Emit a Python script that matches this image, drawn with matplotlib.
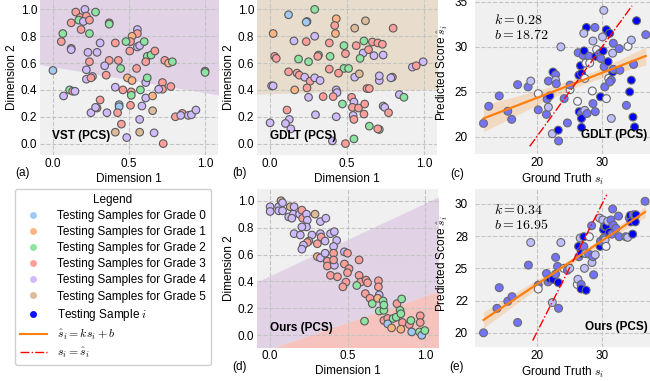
import numpy as np
import matplotlib
matplotlib.use('Agg')
import matplotlib.pyplot as plt
from matplotlib.lines import Line2D
from matplotlib.ticker import MultipleLocator, FormatStrFormatter

plt.rcParams['font.family'] = ['Liberation Sans', 'DejaVu Sans']
plt.rcParams['mathtext.fontset'] = 'cm'
plt.rcParams['font.size'] = 8.5

# grade colours (seaborn pastel)
grade_colors = ['#a1c9f4', '#ffb482', '#8de5a1', '#ff9f9b', '#d0bbff', '#debb9b']
grade_names = ['Testing Samples for Grade %d' % g for g in range(6)]

# (a) VST embedding
vst_x = [0.21, 0.15, 0.28, 0.18, 0.22, 0.17, 0.20, 0.24, 0.12, 0.37,
         0.37, 0.185, 0.065, 0.24, 0.555, 0.555, 0.52, 0.51, 0.48, 0.555,
         0.57, 0.60, 0.505, 0.62, 0.645, 0.61, 0.67, 0.735, 0.76, 0.785,
         1.0, 1.0, 0.055, 0.12, 0.12, 0.31, 0.41, 0.23, 0.29, 0.43,
         0.37, 0.24, 0.34, 0.445, 0.0, 0.22, 0.22, 0.26, 0.25, 0.35,
         0.49, 0.52, 0.55, 0.61, 0.62, 0.11, 0.13, 0.145, 0.41, 0.46,
         0.515, 0.575, 0.72, 0.72, 0.695, 0.775, 0.07, 0.515, 0.61, 0.655,
         0.31, 0.51, 0.585, 0.435, 0.435, 0.655, 0.25, 0.29, 0.28, 0.355,
         0.425, 0.57, 0.45, 0.805, 0.85, 0.84, 0.89, 0.91, 0.94, 0.41,
         0.57, 0.485, 0.665, 0.725]
vst_y = [1.0, 0.98, 0.98, 0.94, 0.95, 0.92, 0.91, 0.92, 0.90, 0.90,
         0.89, 0.85, 0.82, 0.82, 0.85, 0.82, 0.80, 0.76, 0.76, 0.72,
         0.73, 0.76, 0.69, 0.65, 0.66, 0.61, 0.69, 0.62, 0.60, 0.61,
         0.54, 0.53, 0.76, 0.71, 0.70, 0.75, 0.75, 0.68, 0.68, 0.62,
         0.62, 0.61, 0.58, 0.56, 0.545, 0.55, 0.48, 0.50, 0.49, 0.51,
         0.49, 0.47, 0.56, 0.455, 0.49, 0.40, 0.39, 0.39, 0.42, 0.40,
         0.385, 0.40, 0.455, 0.405, 0.405, 0.425, 0.355, 0.36, 0.34, 0.355,
         0.325, 0.285, 0.28, 0.29, 0.275, 0.245, 0.23, 0.265, 0.27, 0.23,
         0.23, 0.18, 0.145, 0.20, 0.225, 0.21, 0.21, 0.215, 0.25, 0.085,
         0.085, 0.045, 0.08, 0.0]
vst_grade = [4, 3, 2, 3, 3, 2, 4, 3, 3, 3, 2, 3, 2, 2, 4, 3, 1, 3, 2, 4,
             4, 2, 3, 2, 2, 3, 3, 3, 1, 2, 2, 2, 3, 3, 4, 4, 3, 4, 4, 3,
             3, 3, 4, 2, 0, 4, 4, 4, 3, 3, 1, 1, 3, 4, 2, 2, 3, 4, 4, 3,
             3, 2, 3, 3, 4, 3, 4, 2, 4, 1, 3, 3, 4, 0, 0, 5, 4, 3, 4, 4,
             3, 4, 3, 3, 3, 4, 4, 4, 4, 5, 5, 4, 4, 3]

# (b) GDLT embedding
gdlt_x = [0.12, 0.24, 0.235, 0.29, 0.43, 0.62, 0.42, 0.425, 0.02, 0.55,
          0.80, 0.155, 0.235, 0.29, 0.385, 0.48, 0.61, 0.665, 0.70, 0.73,
          0.56, 0.605, 0.64, 0.585, 0.735, 0.675, 0.49, 0.185, 0.25, 0.315,
          0.31, 0.03, 0.04, 0.39, 0.12, 0.175, 0.19, 0.225, 0.26, 0.24,
          0.29, 0.325, 0.385, 0.48, 0.51, 0.55, 0.445, 0.58, 0.01, 0.02,
          0.16, 0.63, 0.645, 0.71, 0.71, 0.795, 0.785, 0.925, 0.95, 0.995,
          0.43, 0.435, 0.345, 0.41, 0.25, 0.53, 0.545, 0.84, 0.87, 0.11,
          0.125, 0.10, 0.135, 0.295, 0.43, 0.47, 0.535, 0.575, 0.61, 0.615,
          0.735, 0.745, 0.77, 0.54, 0.545, 0.645, 0.71, 0.70, 0.0, 0.545,
          0.405, 0.49]
gdlt_y = [0.96, 0.91, 0.905, 1.0, 0.93, 0.915, 0.88, 0.82, 0.82, 0.86,
          0.86, 0.765, 0.76, 0.80, 0.75, 0.73, 0.765, 0.757, 0.75, 0.74,
          0.73, 0.675, 0.70, 0.635, 0.66, 0.655, 0.67, 0.63, 0.61, 0.66,
          0.65, 0.65, 0.635, 0.65, 0.535, 0.525, 0.51, 0.495, 0.465, 0.415,
          0.49, 0.47, 0.555, 0.56, 0.56, 0.495, 0.525, 0.52, 0.43, 0.43,
          0.40, 0.41, 0.41, 0.47, 0.505, 0.495, 0.49, 0.57, 0.58, 0.61,
          0.40, 0.38, 0.35, 0.35, 0.345, 0.345, 0.31, 0.365, 0.345, 0.25,
          0.18, 0.15, 0.11, 0.215, 0.20, 0.295, 0.27, 0.265, 0.22, 0.295,
          0.28, 0.27, 0.23, 0.21, 0.18, 0.13, 0.105, 0.11, 0.155, 0.035,
          0.02, 0.0]
gdlt_grade = [0, 0, 0, 2, 1, 5, 3, 1, 1, 5, 3, 4, 3, 4, 3, 2, 2, 3, 3, 3,
              3, 4, 3, 2, 4, 4, 3, 2, 2, 2, 3, 3, 3, 2, 3, 3, 3, 4, 3, 3,
              4, 4, 3, 2, 2, 4, 3, 5, 4, 4, 1, 3, 3, 4, 4, 3, 4, 4, 3, 4,
              4, 4, 3, 3, 4, 3, 4, 4, 2, 3, 4, 4, 4, 4, 4, 2, 3, 3, 3, 3,
              4, 4, 3, 4, 3, 2, 2, 3, 4, 2, 4, 3]

# (d) Ours embedding
ours_x = [0.0, 0.0, 0.055, 0.07, 0.08, 0.055, 0.08, 0.13, 0.155, 0.12,
          0.15, 0.14, 0.19, 0.205, 0.21, 0.235, 0.24, 0.235, 0.205, 0.29,
          0.325, 0.36, 0.155, 0.195, 0.27, 0.25, 0.24, 0.215, 0.325, 0.33,
          0.205, 0.305, 0.355, 0.39, 0.415, 0.43, 0.41, 0.305, 0.325, 0.355,
          0.41, 0.37, 0.37, 0.39, 0.48, 0.50, 0.435, 0.415, 0.41, 0.48,
          0.51, 0.50, 0.49, 0.47, 0.575, 0.575, 0.585, 0.56, 0.615, 0.62,
          0.63, 0.645, 0.66, 0.70, 0.70, 0.705, 0.695, 0.73, 0.735, 0.705,
          0.735, 0.735, 0.76, 0.76, 0.785, 0.795, 0.815, 0.82, 0.84, 0.845,
          0.85, 0.855, 0.845, 0.61, 0.90, 0.91, 0.915, 0.965, 0.97, 0.97,
          0.98, 1.0]
ours_y = [0.955, 0.92, 0.955, 1.0, 0.985, 0.925, 0.925, 0.955, 0.955, 0.88,
          0.90, 0.87, 0.90, 0.93, 0.87, 0.90, 0.855, 0.805, 0.805, 0.90,
          0.845, 0.87, 0.755, 0.745, 0.745, 0.70, 0.69, 0.67, 0.755, 0.73,
          0.64, 0.68, 0.70, 0.755, 0.77, 0.705, 0.66, 0.585, 0.575, 0.61,
          0.61, 0.55, 0.515, 0.445, 0.62, 0.61, 0.435, 0.52, 0.56, 0.53,
          0.495, 0.465, 0.395, 0.36, 0.56, 0.445, 0.395, 0.37, 0.31, 0.41,
          0.39, 0.275, 0.235, 0.405, 0.36, 0.30, 0.275, 0.255, 0.11, 0.18,
          0.185, 0.225, 0.125, 0.085, 0.055, 0.125, 0.135, 0.235, 0.185, 0.16,
          0.27, 0.095, 0.045, 0.105, 0.08, 0.11, 0.025, 0.025, 0.145, 0.095,
          0.0, 0.035]
ours_grade = [4, 4, 4, 5, 4, 4, 4, 5, 4, 4, 4, 4, 4, 3, 3, 4, 4, 4, 4, 5,
              4, 4, 4, 4, 4, 3, 3, 4, 4, 3, 4, 3, 4, 4, 4, 4, 4, 1, 4, 4,
              3, 3, 3, 3, 4, 3, 3, 4, 3, 3, 3, 3, 3, 3, 3, 3, 3, 2, 3, 3,
              3, 3, 2, 3, 3, 4, 1, 2, 3, 2, 2, 2, 3, 0, 1, 2, 2, 3, 2, 2,
              2, 3, 1, 2, 3, 2, 0, 2, 3, 3, 0, 2]

# decision boundaries (intercept, slope) of the background regions
vst_bound = (0.572, -0.193)
gdlt_bound = (0.372, 0.032)
ours_bound_hi = (0.443, 0.538)
ours_bound_lo = (-0.10, 0.392)

# (c) GDLT regression: ground truth, predicted, shade of sample i
gdlt_true = [11.9, 12.7, 14.3, 15.6, 16.2, 17.1, 18.7, 19.1, 20.25, 20.25,
             21.5, 21.6, 21.8, 21.8, 22.0, 22.4, 22.5, 22.9, 22.9, 23.0,
             23.3, 23.35, 23.7, 24.2, 24.7, 25.1, 25.1, 26.25, 26.35, 26.45,
             26.5, 26.85, 26.85, 26.85, 26.7, 26.85, 27.1, 27.25, 27.35, 27.5,
             27.6, 27.2, 27.35, 27.7, 28.0, 28.1, 28.5, 28.6, 28.95, 28.6,
             28.9, 29.0, 29.15, 29.6, 29.75, 29.8, 30.05, 30.15, 30.25, 30.3,
             30.4, 30.65, 30.65, 30.9, 31.15, 31.0, 31.4, 31.15, 31.4, 31.7,
             31.6, 31.6, 31.7, 32.7, 32.6, 33.7, 33.95, 34.2, 34.45, 34.45,
             34.8, 34.7, 34.95, 35.25, 36.65]
gdlt_pred = [21.5, 23.4, 24.55, 22.85, 21.95, 25.8, 25.55, 26.2, 23.0, 24.8,
             22.5, 24.2, 26.2, 23.3, 24.55, 20.35, 27.2, 26.9, 26.3, 25.9,
             20.75, 19.55, 30.0, 24.25, 21.55, 25.25, 25.75, 23.95, 29.35, 26.85,
             22.8, 22.6, 22.05, 21.05, 27.9, 27.05, 29.05, 29.55, 26.5, 28.2,
             32.15, 31.5, 22.95, 22.6, 28.95, 28.2, 25.1, 23.7, 22.8, 30.65,
             32.15, 28.95, 29.7, 29.25, 24.45, 28.7, 31.1, 29.55, 34.05, 27.8,
             25.55, 24.25, 31.9, 28.35, 31.5, 26.5, 26.3, 26.1, 22.05, 30.4,
             29.3, 27.2, 27.5, 27.4, 29.8, 23.5, 30.05, 25.0, 26.3, 30.75,
             28.05, 22.2, 21.1, 32.9, 31.35]
gdlt_shade = [0.55, 0.55, 0.55, 0.55, 0.55, 0.55, 0.55, 0.25, 0.55, 0.05,
              0.55, 0.55, 0.55, 0.25, 1.0, 0.25, 1.0, 0.55, 0.25, 0.55,
              1.0, 0.55, 0.25, 0.55, 0.55, 0.05, 0.55, 0.05, 0.55, 1.0,
              1.0, 0.55, 1.0, 1.0, 1.0, 1.0, 0.55, 1.0, 0.05, 0.05,
              1.0, 0.25, 0.25, 0.55, 0.55, 0.05, 0.05, 0.55, 0.55, 0.25,
              0.55, 1.0, 0.05, 0.55, 1.0, 0.55, 0.25, 1.0, 0.25, 0.55,
              0.55, 0.05, 1.0, 1.0, 1.0, 0.05, 0.55, 0.55, 0.25, 0.55,
              0.25, 1.0, 0.55, 0.55, 0.55, 0.55, 0.05, 1.0, 1.0, 0.25,
              0.55, 1.0, 1.0, 1.0, 0.55]
gdlt_k, gdlt_b = 0.28, 18.72

# (e) Ours regression
ours_true = [11.9, 13.95, 14.3, 15.6, 16.25, 17.1, 18.75, 19.1, 20.25, 20.25,
             21.5, 21.75, 22.0, 22.4, 22.5, 22.9, 22.9, 23.3, 23.35, 23.7,
             23.2, 24.15, 24.7, 25.05, 26.2, 26.3, 26.4, 26.45, 26.8, 26.8,
             26.8, 26.8, 26.65, 27.2, 27.3, 27.45, 27.55, 27.2, 27.95, 28.05,
             28.4, 28.45, 28.6, 28.7, 28.95, 29.6, 29.7, 29.75, 30.1, 30.2,
             30.25, 30.35, 30.45, 30.6, 30.6, 30.85, 31.1, 31.35, 31.5, 31.6,
             31.7, 32.1, 32.6, 32.5, 33.6, 33.9, 34.15, 34.3, 34.4, 34.65,
             34.75, 35.05, 35.15, 36.55]
ours_pred = [20.0, 21.9, 23.5, 22.45, 22.8, 20.8, 25.25, 27.0, 23.7, 23.4,
             24.6, 23.95, 24.2, 22.35, 24.15, 25.85, 24.55, 23.9, 21.9, 27.0,
             25.15, 25.0, 24.85, 25.0, 23.75, 24.15, 26.7, 25.9, 26.35, 23.75,
             23.4, 26.15, 27.35, 26.7, 25.0, 26.15, 23.3, 27.45, 26.1, 27.45,
             28.3, 25.45, 25.9, 24.5, 26.05, 28.9, 26.7, 27.1, 28.75, 28.0,
             27.35, 28.25, 27.2, 26.7, 28.25, 28.65, 27.8, 28.75, 27.65, 29.6,
             28.35, 28.1, 27.45, 29.05, 27.45, 27.4, 28.9, 29.1, 28.6, 27.65,
             29.15, 28.6, 29.15, 30.2]
ours_shade = [0.55, 0.55, 0.55, 0.55, 0.55, 0.55, 0.55, 0.25, 0.55, 0.05,
              0.55, 0.55, 1.0, 0.25, 1.0, 0.55, 0.55, 1.0, 0.55, 0.25,
              0.55, 0.05, 0.55, 0.25, 0.05, 0.25, 1.0, 0.55, 1.0, 0.55,
              1.0, 1.0, 0.25, 0.55, 0.25, 0.25, 1.0, 1.0, 0.55, 0.05,
              0.55, 0.25, 0.55, 0.55, 0.25, 0.25, 1.0, 0.55, 0.25, 1.0,
              0.55, 0.55, 0.25, 0.05, 1.0, 0.25, 1.0, 0.55, 0.55, 0.55,
              0.55, 0.55, 0.55, 0.55, 0.55, 0.25, 0.55, 1.0, 1.0, 1.0,
              0.55, 1.0, 1.0, 0.55]
ours_k, ours_b = 0.34, 16.95

bg = '#f0f0f0'
purple_reg = '#e1d2e6'
tan_reg = '#e8ddcc'
pink_reg = '#f6c3be'

W, H = 650, 381
fig = plt.figure(figsize=(6.5, 3.81), dpi=100)


def box(l, t, r, b):
    return [l / W, 1 - b / H, (r - l) / W, (b - t) / H]


def style(ax, pad_y=2):
    ax.set_facecolor(bg)
    for s in ax.spines.values():
        s.set_visible(False)
    ax.set_axisbelow(True)
    ax.grid(True, ls='--', color='#c4c4c4', lw=0.8)
    ax.tick_params(length=0, pad=2)
    ax.tick_params(axis='y', pad=pad_y)


def embed_panel(ax, x, y, grade, tag):
    style(ax)
    cols = [grade_colors[g] for g in grade]
    ax.scatter(x, y, c=cols, s=30, edgecolors='#5a5a5a', linewidths=0.8, zorder=3)
    ax.set_xlim(-0.085, 1.085)
    ax.set_ylim(-0.085, 1.07)
    ax.set_xticks([0, 0.5, 1.0])
    ax.set_yticks([0, 0.2, 0.4, 0.6, 0.8, 1.0])
    ax.xaxis.set_major_formatter(FormatStrFormatter('%.1f'))
    ax.yaxis.set_major_formatter(FormatStrFormatter('%.1f'))
    ax.set_xlabel('Dimension 1', labelpad=2)
    ax.set_ylabel('Dimension 2', labelpad=2)
    ax.text(0.07, 0.12, tag, transform=ax.transAxes, fontweight='bold',
            ha='left', va='center', zorder=5)


def reg_panel(ax, true, pred, shade, k, b, tag, ylim, ystep):
    style(ax, pad_y=5)
    true = np.array(true)
    pred = np.array(pred)
    shade = np.array(shade)
    cols = np.ones((len(shade), 4))
    cols[:, 0] = 1 - shade
    cols[:, 1] = 1 - shade
    cols[:, 2] = 1
    ax.scatter(true, pred, c=cols, s=32, edgecolors='#6a6a6a', linewidths=0.8, zorder=3)
    xs = np.linspace(true.min(), true.max(), 100)
    fit = k * xs + b
    resid = pred - (k * true + b)
    n = len(true)
    s = np.sqrt(np.sum(resid ** 2) / (n - 2))
    sxx = np.sum((true - true.mean()) ** 2)
    half = 1.96 * s * np.sqrt(1.0 / n + (xs - true.mean()) ** 2 / sxx) * 0.75
    ax.fill_between(xs, fit - half, fit + half, color='#ff7f0e', alpha=0.2, lw=0, zorder=2)
    ax.plot(xs, fit, color='#ff7f0e', lw=1.6, zorder=4)
    ident = np.linspace(pred.min() - 0.6, pred.max() + 0.5, 10)
    ax.plot(ident, ident, color='red', ls='-.', lw=1.0, zorder=4)
    ax.set_xlim(10.6, 37.3)
    ax.set_ylim(*ylim)
    ax.xaxis.set_major_locator(MultipleLocator(10))
    ax.yaxis.set_major_locator(MultipleLocator(ystep))
    ax.yaxis.set_major_formatter(FormatStrFormatter('%.0f'))
    ax.set_xlabel(r'Ground Truth $s_i$', labelpad=2)
    ax.set_ylabel(r'Predicted Score $\hat{s}_i$', labelpad=2)
    ax.yaxis.set_label_coords(-0.14, 0.53)
    ax.text(0.11, 0.87, r'$k = %.2f$' % k, transform=ax.transAxes, fontsize=10, va='center')
    ax.text(0.11, 0.77, r'$b = %.2f$' % b, transform=ax.transAxes, fontsize=10, va='center')
    ax.text(0.985, 0.125, tag, transform=ax.transAxes, fontweight='bold',
            ha='right', va='center', zorder=5)


# (a)
ax_a = fig.add_axes(box(40, 0, 218, 155))
embed_panel(ax_a, vst_x, vst_y, vst_grade, 'VST (PCS)')
xx = np.array([-0.2, 1.2])
ax_a.fill_between(xx, vst_bound[0] + vst_bound[1] * xx, 2, color=purple_reg, lw=0, zorder=0.2)

# (b)
ax_b = fig.add_axes(box(257, 0, 437, 155))
embed_panel(ax_b, gdlt_x, gdlt_y, gdlt_grade, 'GDLT (PCS)')
ax_b.fill_between(xx, gdlt_bound[0] + gdlt_bound[1] * xx, 2, color=tan_reg, lw=0, zorder=0.2)

# (c)
ax_c = fig.add_axes(box(475, 0, 650, 154))
reg_panel(ax_c, gdlt_true, gdlt_pred, gdlt_shade, gdlt_k, gdlt_b, 'GDLT (PCS)', (18.1, 35.2), 5)

# (d)
ax_d = fig.add_axes(box(257, 189, 438, 347))
embed_panel(ax_d, ours_x, ours_y, ours_grade, 'Ours (PCS)')
ax_d.set_ylim(-0.087, 1.087)
hi = ours_bound_hi[0] + ours_bound_hi[1] * xx
lo = ours_bound_lo[0] + ours_bound_lo[1] * xx
ax_d.fill_between(xx, lo, hi, color=purple_reg, lw=0, zorder=0.2)
ax_d.fill_between(xx, -1, lo, color=pink_reg, lw=0, zorder=0.2)

# (e)
ax_e = fig.add_axes(box(475, 189, 650, 347))
reg_panel(ax_e, ours_true, ours_pred, ours_shade, ours_k, ours_b, 'Ours (PCS)', (18.9, 31.15), 2.5)

# panel letters
for lab, px, py in [('(a)', 15, 173), ('(b)', 232, 173), ('(c)', 450, 174),
                    ('(d)', 232, 367), ('(e)', 449, 367)]:
    fig.text(px / W, 1 - py / H, lab, ha='left', va='center')

# legend
handles = [Line2D([], [], marker='o', ls='', markerfacecolor=c, markeredgecolor='none',
                  markersize=5) for c in grade_colors]
handles.append(Line2D([], [], marker='o', ls='', markerfacecolor='#1010ff',
                      markeredgecolor='none', markersize=5))
handles.append(Line2D([], [], color='#ff7f0e', lw=1.5))
handles.append(Line2D([], [], color='red', lw=1.0, ls='-.'))
labels = grade_names + [r'Testing Sample $i$', r'$\hat{s}_i = ks_i + b$', r'$s_i = \hat{s}_i$']
fig.legend(handles, labels, title='Legend', loc='upper left',
           bbox_to_anchor=(15 / W, 1 - 189 / H), borderaxespad=0,
           labelspacing=0.35, handlelength=2.3, handletextpad=0.9,
           frameon=True, fancybox=True, edgecolor='#d0d0d0', framealpha=1,
           fontsize=8.5, title_fontsize=8.5)

fig.savefig('out.png', dpi=100)
